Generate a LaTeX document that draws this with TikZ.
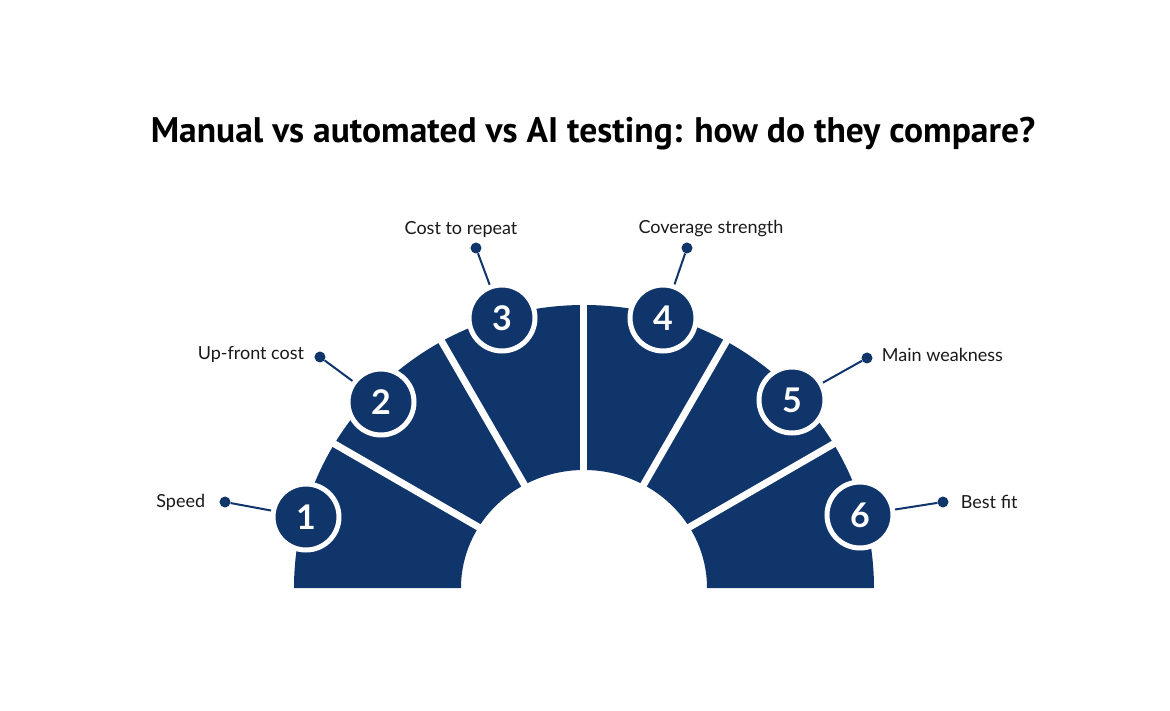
\documentclass[tikz,border=0pt]{standalone}
\usepackage{fontspec}
\setmainfont{Lato}
\newfontfamily\titlefont{PT Sans}
\usetikzlibrary{positioning}

\definecolor{navy}{HTML}{0F356B}

\tikzset{
    num/.style={circle, fill=navy, draw=white, line width=5pt, minimum size=66pt,
        inner sep=0pt, text=white, font=\fontsize{34}{34}\selectfont\bfseries},
    pin/.style={circle, fill=navy, minimum size=11pt, inner sep=0pt},
    lbl/.style={inner sep=0pt, text=black!90, font=\fontsize{18}{20}\selectfont},
    lead/.style={navy, line width=2pt},
    gap/.style={white, line width=7pt},
}

\begin{document}
\begin{tikzpicture}[x=1pt,y=1pt]
    \useasboundingbox (-584,-122) rectangle (586,588);
    \node[font=\titlefont\bfseries\fontsize{35.5}{38}\selectfont] (T) at (9,454)
        {Manual vs automated vs AI testing: how do they compare?};
    \fill[navy] (-290,0) arc[start angle=180, end angle=0, x radius=290, y radius=283]
        -- (123,0) arc[start angle=0, end angle=180, x radius=123, y radius=118] -- cycle;
    \draw[gap] (150:110) -- (150:300);
    \draw[gap] (120:110) -- (120:300);
    \draw[gap] (90:110) -- (90:300);
    \draw[gap] (60:110) -- (60:300);
    \draw[gap] (30:110) -- (30:300);
    \node[num] (c1) at (-278,71) {1};
    \node[num] (c2) at (-203,186) {2};
    \node[num] (c3) at (-82,270) {3};
    \node[num] (c4) at (79,270) {4};
    \node[num] (c5) at (208,188) {5};
    \node[num] (c6) at (276,73) {6};
    \node[pin] (d1) at (-359,86) {};
    \node[pin] (d2) at (-264,231) {};
    \node[pin] (d3) at (-108,340) {};
    \node[pin] (d4) at (103,340) {};
    \node[pin] (d5) at (283,230) {};
    \node[pin] (d6) at (359,86) {};
    \draw[lead] (c1) -- (d1);
    \draw[lead] (c2) -- (d2);
    \draw[lead] (c3) -- (d3);
    \draw[lead] (c4) -- (d4);
    \draw[lead] (c5) -- (d5);
    \draw[lead] (c6) -- (d6);
    \node[lbl, left=14pt of d1] (l1) {Speed};
    \node[lbl, left=10pt of d2, yshift=2pt] (l2) {Up-front cost};
    \node[lbl, above=5pt of d3, xshift=-15pt] (l3) {Cost to repeat};
    \node[lbl, above=5pt of d4, xshift=24pt] (l4) {Coverage strength};
    \node[lbl, right=9pt of d5, yshift=3pt] (l5) {Main weakness};
    \node[lbl, right=12pt of d6] (l6) {Best fit};
\end{tikzpicture}
\end{document}
